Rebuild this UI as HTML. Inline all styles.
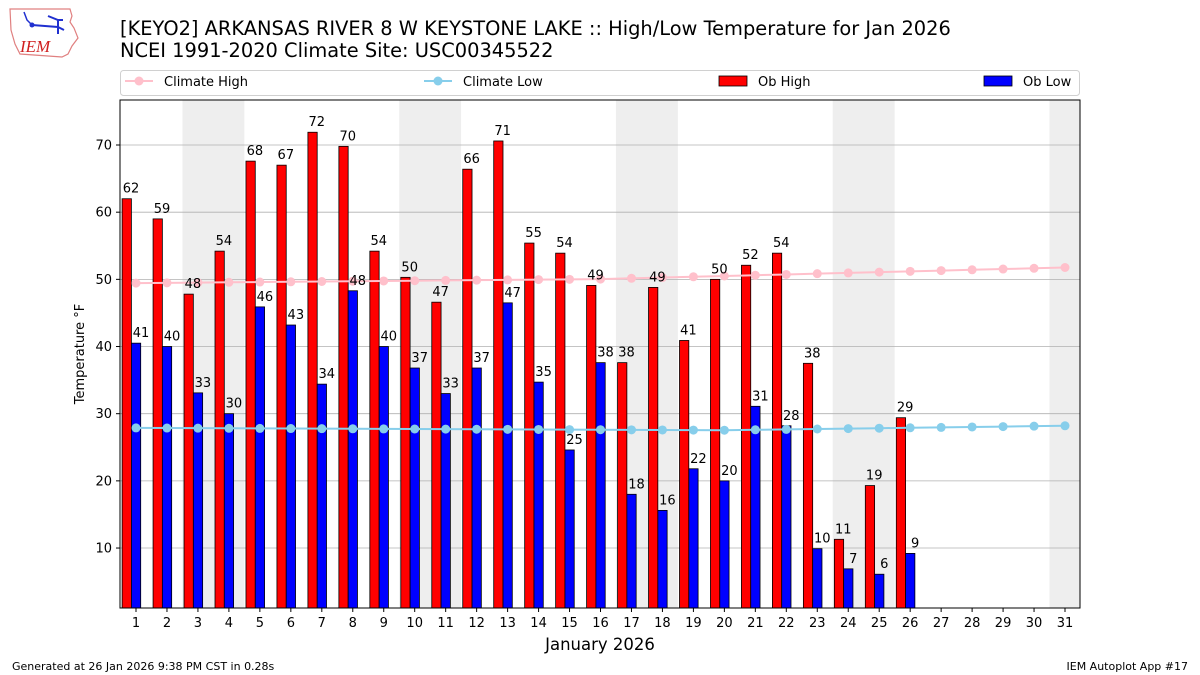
<!DOCTYPE html>
<html><head><meta charset="utf-8"><style>
body{margin:0;background:#fff;}
svg{display:block;font-family:"DejaVu Sans","Liberation Sans",sans-serif;}
</style></head><body>
<svg id="s" width="1200" height="675" viewBox="0 0 1200 675" xmlns="http://www.w3.org/2000/svg">
<rect width="1200" height="675" fill="#fff"/>
<path d="M10 9 L70 9 L72 16 L70 22 L74 28 L78 38 L72 46 L68 54 L62 57 L20 54 L15 44 L11 30 Z" fill="#fff" stroke="#e08080" stroke-width="1.2"/>
<path d="M24 12 L27 20 L31 24" stroke="#2030d0" stroke-width="1.5" fill="none"/>
<circle cx="32" cy="25" r="2.5" fill="#2030d0"/>
<path d="M32 25 L58 27 M58 20 L58 34 M48 16 L58 20 L63 20 M58 27 L64 30" stroke="#2030d0" stroke-width="2" fill="none"/>
<text x="20" y="52" font-family="Liberation Serif,serif" font-style="italic" font-size="17" fill="#d02020">IEM</text>
<text x="120" y="35" font-size="19.4" fill="#000">[KEYO2] ARKANSAS RIVER 8 W KEYSTONE LAKE :: High/Low Temperature for Jan 2026</text>
<text x="120" y="57" font-size="19.4" fill="#000">NCEI 1991-2020 Climate Site: USC00345522</text>
<g id="plot"></g>
<text x="12" y="670" font-size="11">Generated at 26 Jan 2026 9:38 PM CST in 0.28s</text>
<text x="1188" y="670" font-size="11" text-anchor="end">IEM Autoplot App #17</text>
</svg>
<script>
const g=document.getElementById('plot');let h='';
const X=d=>136+(d-1)*30.967, Y=v=>615.2-v*6.717;
for(const d of [3,10,17,24]) h+=`<rect x="${X(d)-15.5}" y="100" width="61.9" height="508" fill="#eeeeee"/>`;
h+=`<rect x="${X(31)-15.5}" y="100" width="${1080-X(31)+15.5}" height="508" fill="#eeeeee"/>`;
for(let v=10;v<=70;v+=10){h+=`<line x1="120" x2="1080" y1="${Y(v)}" y2="${Y(v)}" stroke="#b0b0b0" stroke-width="0.8"/><line x1="116" x2="120" y1="${Y(v)}" y2="${Y(v)}" stroke="#000"/><text x="112" y="${Y(v)+4.5}" font-size="13" text-anchor="end">${v}</text>`;}
const hi=[62,59,47.8,54.2,67.6,67,71.9,69.8,54.2,50.3,46.6,66.4,70.6,55.4,53.9,49.1,37.6,48.8,40.9,50,52.1,53.9,37.5,11.3,19.3,29.4];
const lo=[40.5,40,33.1,30,45.9,43.2,34.4,48.3,40,36.8,33,36.8,46.5,34.7,24.6,37.6,18,15.6,21.8,20,31.1,28.2,9.9,6.9,6.1,9.2];
const base=Y(1.07);
let ch=[],cl=[];
for(let d=1;d<=31;d++){ch.push(49.4+0.04*d+(d>16?(d-16)*0.075:0));cl.push(d<=20?27.9-0.018*d:27.54+(d-20)*0.06);}
let p1='',p2='';ch.forEach((v,i)=>p1+=(i?'L':'M')+X(i+1)+' '+Y(v));cl.forEach((v,i)=>p2+=(i?'L':'M')+X(i+1)+' '+Y(v));
let bars='',labels='';
hi.forEach((v,i)=>{const c=X(i+1);bars+=`<rect x="${c-13.9}" y="${Y(v)}" width="9.3" height="${base-Y(v)}" fill="#ff0000" stroke="#000" stroke-width="0.8"/>`;labels+=`<text x="${c-5}" y="${Y(v)-6}" font-size="13" text-anchor="middle">${Math.round(v)}</text>`;});
lo.forEach((v,i)=>{const c=X(i+1);bars+=`<rect x="${c-4.6}" y="${Y(v)}" width="9.3" height="${base-Y(v)}" fill="#0000ff" stroke="#000" stroke-width="0.8"/>`;labels+=`<text x="${c+5}" y="${Y(v)-6}" font-size="13" text-anchor="middle">${Math.round(v)}</text>`;});
h+=bars;
h+=`<path d="${p1}" stroke="#ffc0cb" stroke-width="2" fill="none"/><path d="${p2}" stroke="#87ceeb" stroke-width="2" fill="none"/>`;
ch.forEach((v,i)=>h+=`<circle cx="${X(i+1)}" cy="${Y(v)}" r="4.5" fill="#ffc0cb"/>`);
cl.forEach((v,i)=>h+=`<circle cx="${X(i+1)}" cy="${Y(v)}" r="4.5" fill="#87ceeb"/>`);
h+=labels;
h+=`<rect x="120" y="100" width="960" height="508" fill="none" stroke="#000" stroke-width="1"/>`;
for(let d=1;d<=31;d++)h+=`<line x1="${X(d)}" x2="${X(d)}" y1="608" y2="612" stroke="#000"/><text x="${X(d)}" y="627" font-size="13" text-anchor="middle">${d}</text>`;
h+=`<text x="600" y="650" font-size="16.5" text-anchor="middle">January 2026</text>`;
h+=`<text transform="translate(84,354) rotate(-90)" font-size="13" text-anchor="middle">Temperature °F</text>`;
h+=`<rect x="120.5" y="70.5" width="959" height="25" rx="3" fill="#fff" stroke="#d0d0d0"/>`;
h+=`<line x1="125" x2="153" y1="81" y2="81" stroke="#ffc0cb" stroke-width="2"/><circle cx="139" cy="81" r="4.5" fill="#ffc0cb"/><text x="164" y="86" font-size="13">Climate High</text>`;
h+=`<line x1="424" x2="452" y1="81" y2="81" stroke="#87ceeb" stroke-width="2"/><circle cx="438" cy="81" r="4.5" fill="#87ceeb"/><text x="463" y="86" font-size="13">Climate Low</text>`;
h+=`<rect x="719" y="76" width="28" height="10" fill="#ff0000" stroke="#000" stroke-width="0.8"/><text x="758" y="86" font-size="13">Ob High</text>`;
h+=`<rect x="984" y="76" width="28" height="10" fill="#0000ff" stroke="#000" stroke-width="0.8"/><text x="1023" y="86" font-size="13">Ob Low</text>`;
g.innerHTML=h;
</script>
</body></html>
